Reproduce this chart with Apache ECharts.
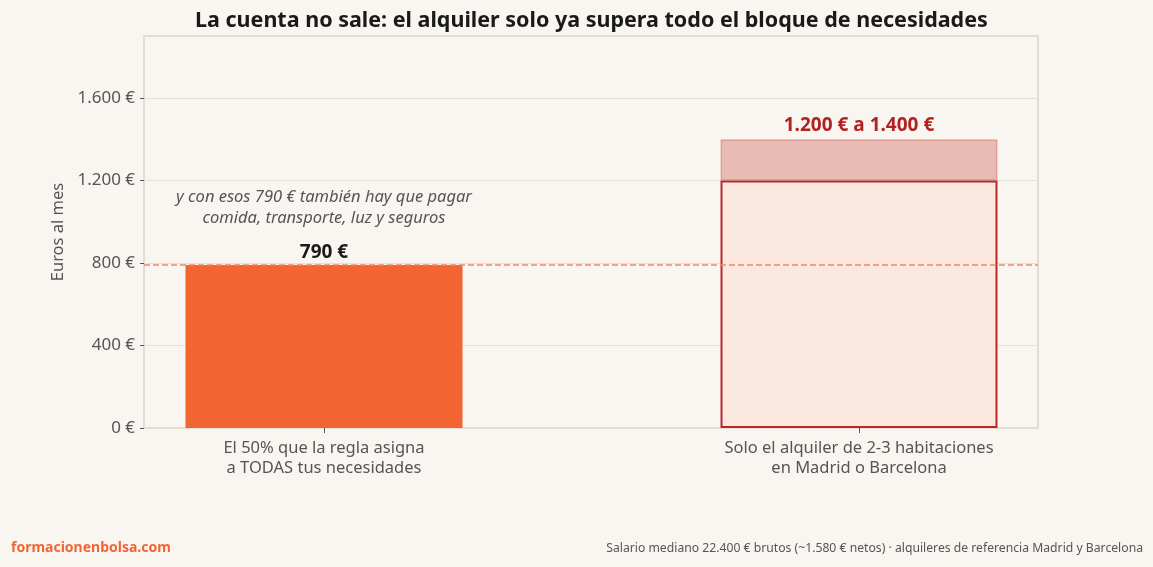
<!DOCTYPE html>
<html>
<head>
<meta charset="utf-8">
<script src="https://cdn.jsdelivr.net/npm/echarts@6/dist/echarts.min.js"></script>
<style>
  html, body { margin: 0; padding: 0; background: #F9F6F1; }
  #chart { width: 1153px; height: 567px; }
</style>
</head>
<body>
<div id="chart"></div>
<script>
// datos del gráfico
var categorias = ['El 50% que la regla asigna\na TODAS tus necesidades', 'Solo el alquiler de 2-3 habitaciones\nen Madrid o Barcelona'];
var necesidades = [790, null];
var alquilerBase = [null, 1200];
var alquilerRango = [null, 200];
var etiquetas = ['790 €', '1.200 € a 1.400 €'];
var limite50 = 790;
var yTicks = [0, 400, 800, 1200, 1600];
var yMax = 1900;

var FONT = '"Noto Sans", "Open Sans", sans-serif';

function euros(v) {
    return String(v).replace(/\B(?=(\d{3})+(?!\d))/g, '.') + ' €';
}

var chart = echarts.init(document.getElementById('chart'));
var option = {
    backgroundColor: '#F9F6F1',
    animation: false,
    textStyle: { fontFamily: FONT },
    title: {
        text: 'La cuenta no sale: el alquiler solo ya supera todo el bloque de necesidades',
        left: 190,
        top: 5,
        textStyle: { fontSize: 21.5, fontWeight: 'bold', color: '#1a1a1a', fontFamily: FONT }
    },
    grid: [
        // marco y eje Y
        { left: 144, right: 115, top: 36, bottom: 139, show: true, borderColor: '#E3DCD0', borderWidth: 2, backgroundColor: 'transparent' },
        // barras
        { left: 56.5, right: 26.5, top: 36, bottom: 139 }
    ],
    xAxis: [
        { gridIndex: 0, type: 'value', min: 0, max: 1, show: false },
        {
            gridIndex: 1, type: 'category', data: categorias,
            axisLine: { show: false },
            axisTick: { show: true, alignWithLabel: true, length: 5, lineStyle: { color: '#555' } },
            axisLabel: { fontSize: 16.5, color: '#555', lineHeight: 20, margin: 10, fontFamily: FONT }
        }
    ],
    yAxis: [
        {
            gridIndex: 0, type: 'value', min: 0, max: yMax, interval: 400,
            name: 'Euros al mes', nameLocation: 'middle', nameGap: 75,
            nameTextStyle: { fontSize: 16.5, color: '#555', fontFamily: FONT },
            axisLine: { show: false },
            axisTick: { show: true, length: 4, lineStyle: { color: '#555' } },
            axisLabel: {
                fontSize: 17, color: '#555', margin: 9, showMaxLabel: false,
                formatter: function (v) { return yTicks.indexOf(v) >= 0 ? euros(v) : ''; }
            },
            splitLine: { lineStyle: { color: '#E5DFD4', width: 1 } }
        },
        { gridIndex: 1, type: 'value', min: 0, max: yMax, show: false }
    ],
    series: [
        {
            type: 'line', xAxisIndex: 0, yAxisIndex: 0, data: [],
            markLine: {
                silent: true, symbol: 'none',
                label: { show: false },
                lineStyle: { color: '#F0885E', type: [6, 3], width: 1.6 },
                data: [{ yAxis: limite50 }]
            }
        },
        {
            type: 'bar', xAxisIndex: 1, yAxisIndex: 1, stack: 'a', barWidth: 277,
            data: necesidades,
            itemStyle: { color: '#F26532' },
            label: {
                show: true, position: 'top', distance: 3,
                formatter: etiquetas[0], fontSize: 19, fontWeight: 'bold', color: '#1a1a1a', fontFamily: FONT
            }
        },
        {
            type: 'bar', xAxisIndex: 1, yAxisIndex: 1, stack: 'b', barWidth: 277, barGap: '-100%',
            data: alquilerBase,
            itemStyle: { color: '#FBE9E0', borderColor: '#B8282A', borderWidth: 2 }
        },
        {
            type: 'bar', xAxisIndex: 1, yAxisIndex: 1, stack: 'b', barWidth: 277,
            data: alquilerRango,
            itemStyle: { color: 'rgba(196,70,60,0.33)', borderColor: 'rgba(196,70,60,0.35)', borderWidth: 1.5 },
            label: {
                show: true, position: 'top', distance: 4,
                formatter: etiquetas[1], fontSize: 19, fontWeight: 'bold', color: '#B22222', fontFamily: FONT
            }
        }
    ],
    graphic: [
        {
            type: 'text', x: 324, y: 187,
            style: {
                text: 'y con esos 790 € también hay que pagar\ncomida, transporte, luz y seguros',
                align: 'center', verticalAlign: 'top', lineHeight: 21,
                fill: '#555', fontSize: 16.5, fontStyle: 'italic', fontFamily: FONT
            }
        },
        {
            type: 'text', left: 11, top: 541,
            style: { text: 'formacionenbolsa.com', fontSize: 14, fontWeight: 'bold', fill: '#F26532', fontFamily: FONT }
        },
        {
            type: 'text', right: 10, top: 543,
            style: {
                text: 'Salario mediano 22.400 € brutos (~1.580 € netos) · alquileres de referencia Madrid y Barcelona',
                fontSize: 12.2, fill: '#555', fontFamily: FONT
            }
        }
    ]
};
chart.setOption(option);
</script>
</body>
</html>
